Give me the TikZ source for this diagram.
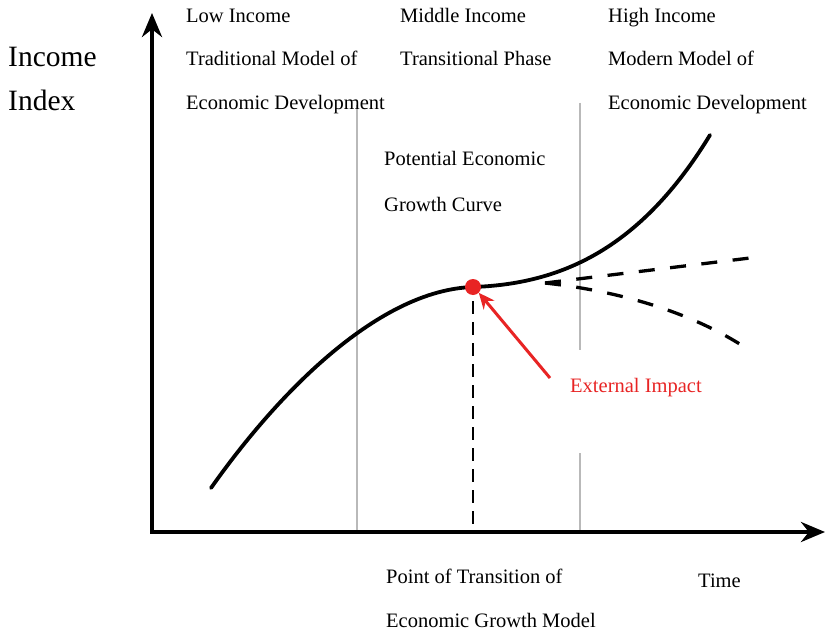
\documentclass[tikz,border=0pt]{standalone}
\usepackage{fontspec}
\setmainfont{Liberation Serif}
\usetikzlibrary{arrows.meta}
\definecolor{impred}{RGB}{232,36,36}
\definecolor{guide}{RGB}{185,185,185}
\begin{document}
\begin{tikzpicture}[x=1pt,y=-1pt,
  lbl/.style={anchor=base west, inner sep=0pt, font=\fontsize{20.5}{24}\selectfont},
  biglbl/.style={anchor=base west, inner sep=0pt, font=\fontsize{29.5}{34}\selectfont},
  axisline/.style={line width=4.2pt, line join=miter, {Stealth[length=24pt,width=20pt]}-{Stealth[length=24pt,width=20pt]}},
  curveline/.style={line width=3.8pt, line cap=round},
  dashline/.style={line width=3.3pt, dash pattern=on 16pt off 15.5pt},
  vdash/.style={line width=2.8pt, dash pattern=on 13pt off 8pt},
  guideline/.style={guide, line width=2pt},
  impact/.style={impred, line width=3pt, -{Stealth[length=16pt,width=14pt]}}]
\useasboundingbox (0,0) rectangle (826,631);
\fill[white] (0,0) rectangle (826,631);

% guide lines
\coordinate (g1t) at (357,105);
\coordinate (g1b) at (357,532);
\coordinate (g2t) at (580,103);
\coordinate (g2m) at (580,350);
\coordinate (g2n) at (580,453);
\coordinate (g2b) at (580,532);
\draw[guideline] (g1t) -- (g1b);
\draw[guideline] (g2t) -- (g2m);
\draw[guideline] (g2n) -- (g2b);

% axes
\coordinate (ytip) at (152,13);
\coordinate (O) at (152,532);
\coordinate (xtip) at (825,532);
\draw[axisline] (ytip) -- (O) -- (xtip);

% growth curve
\coordinate (cs) at (211,488);
\coordinate (cp) at (473,287);
\coordinate (ce) at (710,135);
\draw[curveline] (cs) .. controls (280,390) and (380,290) .. (cp)
                      .. controls (560,284) and (640,250) .. (ce);

% dashed branches
\coordinate (b0) at (545,283);
\coordinate (bu) at (750,258);
\coordinate (bl) at (746,348);
\draw[dashline] (b0) -- (bu);
\draw[dashline] (b0) .. controls (600,289) and (680,305) .. (bl);

% transition point
\node[circle, fill=impred, minimum size=16pt, inner sep=0pt] (dot) at (cp) {};
\coordinate (vbot) at (473,528);
\draw[vdash] (dot.south) ++(0,6) -- (vbot);

% labels
\node[biglbl] (inc) at (8,67) {Income};
\node[biglbl] (idx) at (8,111) {Index};
\node[lbl] (low1) at (186,22.5) {Low Income};
\node[lbl] (low2) at (186,66) {Traditional Model of};
\node[lbl] (low3) at (186,109.5) {Economic Development};
\node[lbl] (mid1) at (400,22.5) {Middle Income};
\node[lbl] (mid2) at (400,66) {Transitional Phase};
\node[lbl] (hi1) at (608,22.5) {High Income};
\node[lbl] (hi2) at (608,66) {Modern Model of};
\node[lbl] (hi3) at (608,109.5) {Economic Development};
\node[lbl] (pot1) at (384,166) {Potential Economic};
\node[lbl] (pot2) at (384,211) {Growth Curve};
\node[lbl, text=impred] (ext) at (570,392) {External Impact};
\node[lbl] (pt1) at (386,583) {Point of Transition of};
\node[lbl] (pt2) at (386,627) {Economic Growth Model};
\node[lbl] (time) at (698,587) {Time};

% external impact arrow
\coordinate (arrtail) at (550,378);
\draw[impact] (arrtail) -- (dot.south east);
\end{tikzpicture}
\end{document}
